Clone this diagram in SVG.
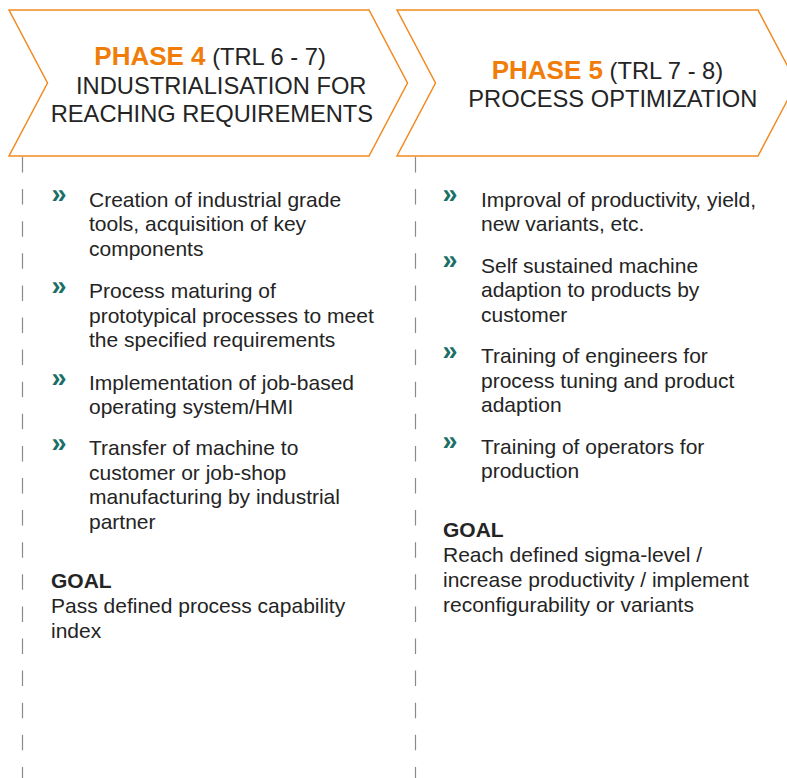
<svg xmlns="http://www.w3.org/2000/svg" width="787" height="778" viewBox="0 0 787 778">
  <style>
    .chev { fill: #ffffff; stroke: #F28A22; stroke-width: 1.5; stroke-linejoin: miter; }
    .guide { stroke: #8a8a8a; stroke-width: 1.2; stroke-dasharray: 15.5 16.6; fill: none; }
    text { font-family: "Liberation Sans", Arial, Helvetica, sans-serif; fill: #242424; }
    .ph { font-size: 26px; font-weight: bold; fill: #F07D0A; }
    .hd { font-size: 23.7px; }
    .body { font-size: 21px; }
    .goal { font-size: 21px; font-weight: bold; }
    .bul { font-size: 27px; font-weight: bold; fill: #1B6F66; }
  </style>

  <!-- dashed guide lines below each phase -->
  <g id="connectors">
    <line class="guide" x1="22.5" y1="157" x2="22.5" y2="778"/>
    <line class="guide" x1="415.5" y1="157" x2="415.5" y2="778"/>
  </g>

  <!-- Phase 4 -->
  <g id="phase4">
    <polygon class="chev" points="9,10 369,10 407.5,83 369,156 9,156 47.5,83"/>
    <text x="94.3" y="65"><tspan class="ph">PHASE 4</tspan><tspan class="hd"> (TRL 6 - 7)</tspan></text>
    <text class="hd" x="76" y="93.5">INDUSTRIALISATION FOR</text>
    <text class="hd" x="50.7" y="121.7">REACHING REQUIREMENTS</text>
  </g>

  <g id="phase4-items">
    <text class="bul" x="51.5" y="203">»</text>
    <text class="body" x="89" y="206.5">Creation of industrial grade</text>
    <text class="body" x="89" y="231">tools, acquisition of key</text>
    <text class="body" x="89" y="255.5">components</text>

    <text class="bul" x="51.5" y="295">»</text>
    <text class="body" x="89" y="298">Process maturing of</text>
    <text class="body" x="89" y="322.5">prototypical processes to meet</text>
    <text class="body" x="89" y="347">the specified requirements</text>

    <text class="bul" x="51.5" y="386.5">»</text>
    <text class="body" x="89" y="389.5">Implementation of job-based</text>
    <text class="body" x="89" y="414">operating system/HMI</text>

    <text class="bul" x="51.5" y="452">»</text>
    <text class="body" x="89" y="455">Transfer of machine to</text>
    <text class="body" x="89" y="479.5">customer or job-shop</text>
    <text class="body" x="89" y="504">manufacturing by industrial</text>
    <text class="body" x="89" y="528.5">partner</text>

    <text class="goal" x="51" y="588.3">GOAL</text>
    <text class="body" x="51" y="613.3">Pass defined process capability</text>
    <text class="body" x="51" y="638">index</text>
  </g>

  <!-- Phase 5 -->
  <g id="phase5">
    <polygon class="chev" points="397,10 758,10 796.5,83 758,156 397,156 435.5,83"/>
    <text x="491.7" y="79"><tspan class="ph">PHASE 5</tspan><tspan class="hd"> (TRL 7 - 8)</tspan></text>
    <text class="hd" x="468.3" y="107.3">PROCESS OPTIMIZATION</text>
  </g>

  <g id="phase5-items">
    <text class="bul" x="442.5" y="203">»</text>
    <text class="body" x="481" y="206.7">Improval of productivity, yield,</text>
    <text class="body" x="481" y="231.2">new variants, etc.</text>

    <text class="bul" x="442.5" y="269">»</text>
    <text class="body" x="481" y="272.7">Self sustained machine</text>
    <text class="body" x="481" y="297.2">adaption to products by</text>
    <text class="body" x="481" y="321.7">customer</text>

    <text class="bul" x="442.5" y="359.5">»</text>
    <text class="body" x="481" y="363.3">Training of engineers for</text>
    <text class="body" x="481" y="387.8">process tuning and product</text>
    <text class="body" x="481" y="412.3">adaption</text>

    <text class="bul" x="442.5" y="450">»</text>
    <text class="body" x="481" y="453.5">Training of operators for</text>
    <text class="body" x="481" y="478">production</text>

    <text class="goal" x="443" y="537">GOAL</text>
    <text class="body" x="443" y="562">Reach defined sigma-level /</text>
    <text class="body" x="443" y="587">increase productivity / implement</text>
    <text class="body" x="443" y="612">reconfigurability or variants</text>
  </g>
</svg>
